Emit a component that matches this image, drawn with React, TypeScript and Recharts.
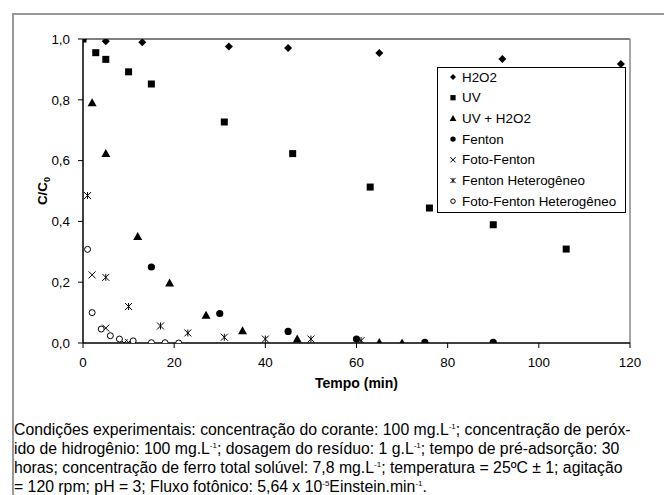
import React from 'react';
import { ScatterChart, Scatter, XAxis, YAxis, ReferenceLine, Legend, Label } from 'recharts';

// ---- data ----
const h2o2X = [0, 5, 13, 32, 45, 65, 92, 118];
const h2o2Y = [1.0, 0.993, 0.989, 0.975, 0.97, 0.954, 0.934, 0.918];

const uvX = [0, 2.8, 5, 10, 15, 31, 46, 63, 76, 90, 106];
const uvY = [1.0, 0.955, 0.933, 0.892, 0.852, 0.727, 0.623, 0.513, 0.444, 0.389, 0.309];

const uvH2o2X = [2, 5, 12, 19, 27, 35, 47, 65, 70];
const uvH2o2Y = [0.79, 0.623, 0.35, 0.197, 0.091, 0.04, 0.013, 0.002, 0.0];

const fentonX = [15, 30, 45, 60, 75, 90];
const fentonY = [0.25, 0.097, 0.038, 0.013, 0.002, 0.002];

const fotoFentonX = [2, 5, 9, 10];
const fotoFentonY = [0.224, 0.049, 0.0, 0.002];

const fentonHetX = [1, 5, 10, 17, 23, 31, 40, 50, 61];
const fentonHetY = [0.485, 0.216, 0.12, 0.056, 0.033, 0.019, 0.013, 0.013, 0.008];

const fotoFentonHetX = [1, 2, 4, 6, 8, 11, 15, 18, 21];
const fotoFentonHetY = [0.308, 0.1, 0.046, 0.024, 0.013, 0.007, 0.001, 0.001, 0.0];

const xTicks = [0, 20, 40, 60, 80, 100, 120];
const yTicks = [0, 0.2, 0.4, 0.6, 0.8, 1.0];

const seriesNames = [
  'H2O2',
  'UV',
  'UV + H2O2',
  'Fenton',
  'Foto-Fenton',
  'Fenton Heterogêneo',
  'Foto-Fenton Heterogêneo',
];

const captionLines = [
  ['Condições experimentais: concentração do corante: 100 mg.L', '-1', '; concentração de peróx-'],
  ['ido de hidrogênio: 100 mg.L', '-1', '; dosagem do resíduo: 1 g.L', '-1', '; tempo de pré-adsorção: 30'],
  ['horas; concentração de ferro total solúvel: 7,8 mg.L', '-1', '; temperatura = 25ºC ± 1; agitação'],
  ['= 120 rpm; pH = 3; Fluxo fotônico: 5,64 x 10', '-5', 'Einstein.min', '-1', '.'],
];

// ---- helpers ----
const toPts = (xs: number[], ys: number[]) => xs.map((x, i) => ({ x, y: ys[i] }));

type Kind = 'diamond' | 'square' | 'triangle' | 'circle' | 'cross' | 'star' | 'ocircle';
const kinds: Kind[] = ['diamond', 'square', 'triangle', 'circle', 'cross', 'star', 'ocircle'];
const datasets = [
  toPts(h2o2X, h2o2Y),
  toPts(uvX, uvY),
  toPts(uvH2o2X, uvH2o2Y),
  toPts(fentonX, fentonY),
  toPts(fotoFentonX, fotoFentonY),
  toPts(fentonHetX, fentonHetY),
  toPts(fotoFentonHetX, fotoFentonHetY),
];

function drawMarker(kind: Kind, cx: number, cy: number, k = 1) {
  switch (kind) {
    case 'diamond': {
      const s = 4 * k;
      return <path d={`M${cx},${cy - s}L${cx + s},${cy}L${cx},${cy + s}L${cx - s},${cy}Z`} fill="#000" />;
    }
    case 'square': {
      const s = 3.5 * k;
      return <rect x={cx - s} y={cy - s} width={2 * s} height={2 * s} fill="#000" />;
    }
    case 'triangle': {
      const s = 4.5 * k;
      return <path d={`M${cx},${cy - s}L${cx + s},${cy + s * 0.75}L${cx - s},${cy + s * 0.75}Z`} fill="#000" />;
    }
    case 'circle':
      return <circle cx={cx} cy={cy} r={3.6 * k} fill="#000" />;
    case 'cross': {
      const s = 3.5 * k;
      return (
        <path d={`M${cx - s},${cy - s}L${cx + s},${cy + s}M${cx - s},${cy + s}L${cx + s},${cy - s}`} stroke="#000" strokeWidth={1} fill="none" />
      );
    }
    case 'star': {
      const s = 3.5 * k;
      return (
        <path
          d={`M${cx - s},${cy - s}L${cx + s},${cy + s}M${cx - s},${cy + s}L${cx + s},${cy - s}M${cx},${cy - s}L${cx},${cy + s}`}
          stroke="#000"
          strokeWidth={1}
          fill="none"
        />
      );
    }
    case 'ocircle':
      return <circle cx={cx} cy={cy} r={3 * k} fill="#fff" stroke="#000" strokeWidth={1} />;
  }
  return null;
}

const FONT = '"Liberation Sans", Arial, sans-serif';

const LegendBox = () => (
  <svg width={190} height={147} style={{ display: 'block' }}>
    <rect x={0.5} y={0.5} width={188} height={145} fill="#fff" stroke="#000" strokeWidth={1} />
    {seriesNames.map((n, i) => {
      const cy = 10 + i * 20.7;
      return (
        <g key={n}>
          {drawMarker(kinds[i], 16, cy, 0.75)}
          <text x={25} y={cy} dy="0.35em" fontSize={13.4} fontFamily={FONT} fill="#000">
            {n}
          </text>
        </g>
      );
    })}
  </svg>
);

export default function App() {
  return (
    <div style={{ position: 'absolute', left: 0, top: 0, width: 664, height: 495, background: '#fff', overflow: 'hidden' }}>
      <div style={{ position: 'absolute', left: 12, top: 13, width: 652, height: 482, borderLeft: '2px solid #999', borderTop: '2px solid #999' }} />
      <div style={{ position: 'absolute', left: 0, top: 0 }}>
        <ScatterChart width={664} height={400} margin={{ top: 39, right: 34, bottom: 7, left: 0 }}>
          <XAxis
            type="number"
            dataKey="x"
            domain={[0, 120]}
            ticks={xTicks}
            interval={0}
            allowDataOverflow
            height={50}
            tickSize={5}
            tickMargin={9}
            axisLine={{ stroke: '#000', strokeWidth: 1.5 }}
            tickLine={{ stroke: '#000', strokeWidth: 1 }}
            tick={{ fill: '#000', fontSize: 13.4, fontFamily: FONT }}
          >
            <Label
              content={(p: any) => {
                const vb = p.viewBox || {};
                return (
                  <text x={vb.x + vb.width / 2} y={388} textAnchor="middle" fontSize={14} fontWeight="bold" fontFamily={FONT} fill="#000">
                    Tempo (min)
                  </text>
                );
              }}
            />
          </XAxis>
          <YAxis
            type="number"
            dataKey="y"
            domain={[0, 1]}
            ticks={yTicks}
            interval={0}
            allowDataOverflow
            width={83}
            tickSize={5}
            tickMargin={8}
            tickFormatter={(v: number) => v.toFixed(1).replace('.', ',')}
            axisLine={{ stroke: '#000', strokeWidth: 1.5 }}
            tickLine={{ stroke: '#000', strokeWidth: 1 }}
            tick={{ fill: '#000', fontSize: 13.4, fontFamily: FONT }}
          >
            <Label
              content={(p: any) => {
                const vb = p.viewBox || {};
                const cy = vb.y + vb.height / 2;
                return (
                  <text
                    x={42}
                    y={cy}
                    transform={`rotate(-90 42 ${cy})`}
                    textAnchor="middle"
                    dy="0.35em"
                    fontSize={13.4}
                    fontWeight="bold"
                    fontFamily={FONT}
                    fill="#000"
                  >
                    C/C<tspan fontSize={9} dy="3">0</tspan>
                  </text>
                );
              }}
            />
          </YAxis>
          <ReferenceLine y={1} stroke="#000" strokeWidth={1.2} ifOverflow="visible" />
          <ReferenceLine x={120} stroke="#888" strokeWidth={1.5} ifOverflow="visible" />
          <Legend
            verticalAlign="middle"
            align="center"
            layout="horizontal"
            wrapperStyle={{ position: 'absolute', left: 437, top: 67, width: 190, height: 147 }}
            content={() => <LegendBox />}
          />
          {datasets.map((d, i) => (
            <Scatter
              key={seriesNames[i]}
              name={seriesNames[i]}
              data={d}
              fill="#000"
              isAnimationActive={false}
              shape={(p: any) => drawMarker(kinds[i], p.cx, p.cy)}
            />
          ))}
        </ScatterChart>
      </div>
      <div
        style={{
          position: 'absolute',
          left: 14,
          top: 420,
          fontFamily: FONT,
          fontSize: 15.8,
          lineHeight: '19px',
          color: '#000',
          whiteSpace: 'nowrap',
        }}
      >
        {captionLines.map((parts, li) => (
          <div key={li}>
            {parts.map((t, j) =>
              j % 2 === 1 ? (
                <sup key={j} style={{ fontSize: 8, lineHeight: 0, verticalAlign: 'super' }}>
                  {t}
                </sup>
              ) : (
                <span key={j}>{t}</span>
              )
            )}
          </div>
        ))}
      </div>
    </div>
  );
}
